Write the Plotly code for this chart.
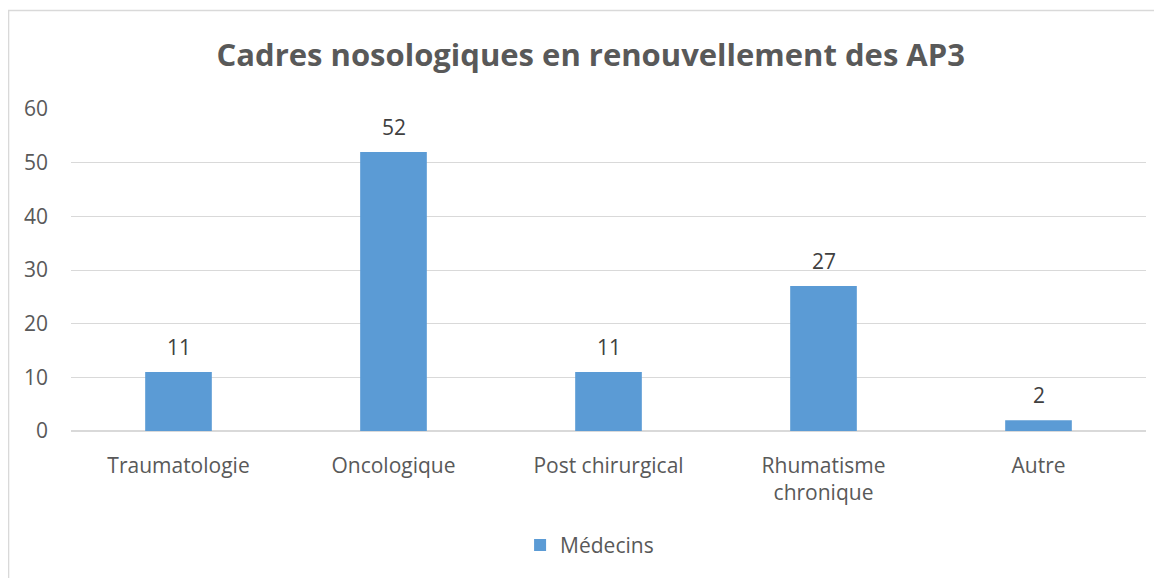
import plotly.graph_objects as go

categories = ["Traumatologie", "Oncologique", "Post chirurgical", "Rhumatisme<br>chronique", "Autre"]
values = [11, 52, 11, 27, 2]
series_name = "Médecins"
title_text = "Cadres nosologiques en renouvellement des AP3"

FONT = "Open Sans"

fig = go.Figure()
fig.add_trace(go.Bar(
    x=categories, y=values, name=series_name,
    marker=dict(color="#5b9bd5", line=dict(width=0)),
))

for c, v in zip(categories, values):
    fig.add_annotation(x=c, y=v, text=str(v), showarrow=False, yanchor="middle", yshift=25,
                       font=dict(family=FONT, size=21, color="#404040"))

fig.update_layout(
    width=1154, height=570,
    margin=dict(l=63, r=16, t=101, b=145),
    paper_bgcolor="white", plot_bgcolor="white",
    bargap=0.69,
    showlegend=True,
    title=dict(text="<b>" + title_text + "</b>", x=0.505, xanchor="center",
               y=0.9175, yanchor="middle",
               font=dict(family=FONT, size=31, color="#595959")),
    legend=dict(orientation="h", x=0.4824, xanchor="center", y=-0.355, yanchor="middle",
                itemwidth=30,
                font=dict(family=FONT, size=21, color="#595959")),
    font=dict(family=FONT, size=21, color="#595959"),
)
fig.update_yaxes(range=[0, 60], dtick=10, showgrid=True, gridcolor="#d9d9d9", gridwidth=1,
                 zeroline=True, zerolinecolor="#d9d9d9", zerolinewidth=1.5,
                 showline=False, ticks="", ticklabelstandoff=22,
                 tickfont=dict(family=FONT, size=21, color="#595959"))
fig.update_xaxes(showline=False, ticks="", ticklabelstandoff=20,
                 tickfont=dict(family=FONT, size=21, color="#595959"))

fig.add_shape(type="rect", xref="paper", yref="paper",
              x0=-0.0581, x1=1.2, y0=-1.0, y1=1.3056,
              line=dict(color="#d9d9d9", width=1.5), fillcolor="rgba(0,0,0,0)", layer="below")

fig.write_html("out.html")
